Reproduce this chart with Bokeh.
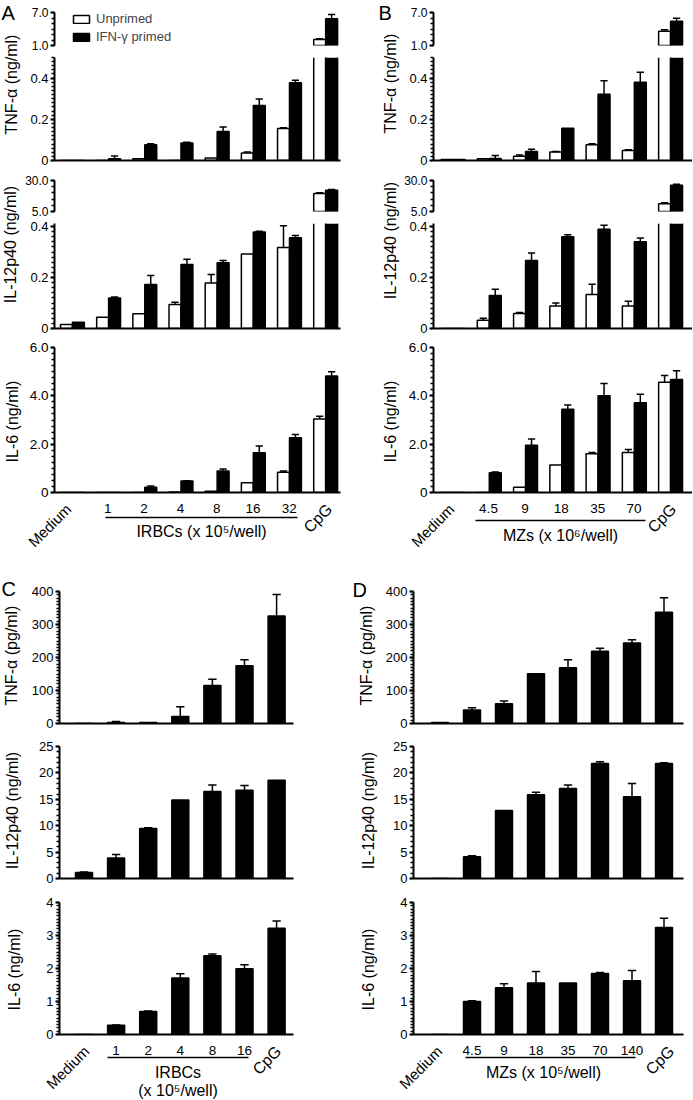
import numpy as np
from bokeh.plotting import figure
from bokeh.layouts import column, row
from bokeh.models import Range1d, FixedTicker, PrintfTickFormatter, Legend, LegendItem
from bokeh.core.properties import value
from bokeh.embed import file_html
from bokeh.resources import INLINE

FONT = "Liberation Sans"

# ---------------- data ----------------
a_groups = ["Medium", "1", "2", "4", "8", "16", "32", "CpG"]
a_tnf_unprimed = [0, 0, 0.008, 0, 0.012, 0.037, 0.155, 2.08]
a_tnf_unprimed_sd = [0, 0, 0, 0, 0, 0.004, 0.004, 0.15]
a_tnf_primed = [0, 0.008, 0.076, 0.085, 0.141, 0.267, 0.377, 5.86]
a_tnf_primed_sd = [0, 0.014, 0.005, 0.003, 0.022, 0.031, 0.013, 0.78]
a_il12_unprimed = [0.016, 0.044, 0.058, 0.094, 0.179, 0.292, 0.318, 19.5]
a_il12_unprimed_sd = [0, 0, 0, 0.009, 0.033, 0, 0.085, 0.6]
a_il12_primed = [0.025, 0.12, 0.173, 0.251, 0.258, 0.379, 0.356, 22.2]
a_il12_primed_sd = [0, 0.004, 0.035, 0.021, 0.009, 0.003, 0.009, 0.5]
a_il6_unprimed = [0, 0, 0, 0.02, 0.05, 0.40, 0.84, 3.04]
a_il6_unprimed_sd = [0, 0, 0, 0, 0, 0, 0.05, 0.12]
a_il6_primed = [0, 0, 0.22, 0.48, 0.89, 1.64, 2.27, 4.82]
a_il6_primed_sd = [0, 0, 0.05, 0.01, 0.08, 0.28, 0.13, 0.18]

b_groups = ["Medium", "4.5", "9", "18", "35", "70", "CpG"]
b_tnf_unprimed = [0.005, 0.008, 0.021, 0.041, 0.076, 0.049, 3.6]
b_tnf_unprimed_sd = [0, 0, 0.006, 0.003, 0.005, 0.003, 0.25]
b_tnf_primed = [0.005, 0.01, 0.044, 0.156, 0.322, 0.38, 5.42]
b_tnf_primed_sd = [0, 0.014, 0.011, 0, 0.065, 0.048, 0.54]
b_il12_unprimed = [0, 0.032, 0.059, 0.088, 0.133, 0.088, 11.2]
b_il12_unprimed_sd = [0, 0.008, 0.004, 0.012, 0.041, 0.019, 0.8]
b_il12_primed = [0, 0.129, 0.267, 0.36, 0.389, 0.34, 26.2]
b_il12_primed_sd = [0, 0.025, 0.029, 0.008, 0.016, 0.015, 0.8]
b_il6_unprimed = [0, 0, 0.22, 1.14, 1.60, 1.66, 4.56]
b_il6_unprimed_sd = [0, 0, 0, 0, 0.06, 0.12, 0.28]
b_il6_primed = [0, 0.82, 1.96, 3.44, 4.0, 3.71, 4.68]
b_il6_primed_sd = [0, 0.03, 0.25, 0.18, 0.51, 0.36, 0.36]

c_groups = ["Medium", "1", "2", "4", "8", "16", "CpG"]
c_tnf = [0, 3, 3, 21, 115, 175, 326]
c_tnf_sd = [0, 3, 0, 30, 19, 18, 65]
c_il12 = [1.14, 3.86, 9.49, 14.87, 16.46, 16.7, 18.6]
c_il12_sd = [0.1, 0.7, 0.1, 0, 1.24, 0.9, 0]
c_il6 = [0, 0.28, 0.70, 1.71, 2.39, 1.99, 3.22]
c_il6_sd = [0, 0.01, 0.01, 0.13, 0.05, 0.12, 0.22]

d_groups = ["Medium", "4.5", "9", "18", "35", "70", "140", "CpG"]
d_tnf = [3, 41, 60, 151, 169, 219, 244, 337]
d_tnf_sd = [0, 7, 8, 0, 24, 9, 10, 44]
d_il12 = [0, 4.1, 12.9, 15.85, 17.05, 21.8, 15.5, 21.8]
d_il12_sd = [0, 0.2, 0, 0.5, 0.65, 0.3, 2.5, 0.1]
d_il6 = [0, 1.0, 1.42, 1.56, 1.56, 1.85, 1.63, 3.24]
d_il6_sd = [0, 0.02, 0.12, 0.35, 0, 0.03, 0.31, 0.28]

# ---------------- geometry (page px) ----------------
# c0: centre of first group, sp: px per group, cl: canvas left, W: canvas width
PANEL = {
    "A": dict(c0=71.0, sp=36.3, cl=22.0, W=354, bl=31, br=36),
    "B": dict(c0=451.6, sp=36.4, cl=401.0, W=291, bl=31, br=0),
    "C": dict(c0=83.5, sp=32.1, cl=24.0, W=326, bl=35, br=57),
    "D": dict(c0=439.5, sp=32.0, cl=378.0, W=314, bl=35, br=9),
}


def conv(P, rx):
    return (rx - P["c0"]) / P["sp"]


def frame_range(P):
    f0 = P["cl"] + P["bl"]
    f1 = P["cl"] + P["W"] - P["br"]
    return Range1d(conv(P, f0), conv(P, f1))


def canvas_range(P):
    return Range1d(conv(P, P["cl"]), conv(P, P["cl"] + P["W"]))


def steps(a, b, s):
    return [round(a + i * s, 6) for i in range(int(round((b - a) / s)) + 1)]


def base_fig(w, h, xr, yr, bl, br, bt, bb, xaxis=False, yaxis=False, free=False):
    p = figure(width=w, height=h, x_range=xr, y_range=yr,
               x_axis_location="below" if xaxis else None,
               y_axis_location="left" if yaxis else None,
               output_backend="svg", toolbar_location=None, title=None,
               min_border_left=bl, min_border_right=br,
               min_border_top=bt, min_border_bottom=bb)
    p.grid.visible = False
    p.outline_line_color = None
    p.background_fill_color = "white"
    p.border_fill_color = "white"
    if free:
        try:
            p.frame_align = False
        except Exception:
            pass
    return p


def style_y(p, ticks, minor, fmt=None, size="13px"):
    ax = p.yaxis[0]
    ax.ticker = FixedTicker(ticks=ticks, minor_ticks=minor)
    if fmt:
        ax.formatter = PrintfTickFormatter(format=fmt)
        if 0 in ticks:
            ax.major_label_overrides = {0: "0"}
    ax.axis_line_width = 2
    ax.axis_line_color = "black"
    ax.major_tick_line_width = 2
    ax.minor_tick_line_width = 1.5
    ax.major_tick_out = 4
    ax.major_tick_in = 0
    ax.minor_tick_out = 3
    ax.minor_tick_in = 0
    ax.major_label_standoff = 2
    ax.major_label_text_font = FONT
    ax.major_label_text_font_size = size
    ax.major_label_text_color = "black"


def style_x_line(p):
    ax = p.xaxis[0]
    ax.ticker = FixedTicker(ticks=[])
    ax.major_tick_out = 0
    ax.major_tick_in = 0
    ax.minor_tick_out = 0
    ax.minor_tick_in = 0
    ax.major_label_text_font_size = "0px"
    ax.major_label_standoff = 0
    ax.axis_line_width = 2
    ax.axis_line_color = "black"


def draw_err(p, xs, tops, sds, cap):
    xs = np.asarray(xs, float)
    t = np.asarray(tops, float)
    e = np.asarray(sds, float)
    m = e > 0
    if not m.any():
        return
    p.segment(x0=xs[m], y0=t[m], x1=xs[m], y1=t[m] + e[m], line_color="black", line_width=1.5)
    p.segment(x0=xs[m] - cap, y0=t[m] + e[m], x1=xs[m] + cap, y1=t[m] + e[m],
              line_color="black", line_width=1.5)


def bars(p, xs, vals, sds, bw, fill, ylo, yhi, cap, upper):
    """Bars of one series inside one section of a (possibly broken) y axis."""
    xs = np.asarray(xs, float)
    v = np.asarray(vals, float)
    e = np.asarray(sds, float)
    if upper:
        m = v > ylo
        r = p.vbar(x=xs[m], top=v[m], bottom=ylo, width=bw, fill_color=fill,
                   line_color="black", line_width=1.5)
        ok = m & (v + e <= yhi)
        draw_err(p, xs[ok], v[ok], e[ok], cap)
        return r
    inside = v <= yhi
    r = p.vbar(x=xs[inside], top=v[inside], bottom=ylo, width=bw, fill_color=fill,
               line_color="black", line_width=1.5)
    ok = inside & (v + e <= yhi)
    draw_err(p, xs[ok], v[ok], e[ok], cap)
    over = ~inside
    if over.any():
        p.vbar(x=xs[over], top=yhi, bottom=ylo, width=bw, fill_color=fill, line_color=None)
        edges = np.r_[xs[over] - bw / 2, xs[over] + bw / 2]
        p.segment(x0=edges, y0=ylo, x1=edges, y1=yhi, line_color="black", line_width=1.5)
    return r


def draw_pair(p, data, ylo, yhi, upper, bw=0.33, cap=0.1):
    unp, unp_sd, pri, pri_sd = data
    x = np.arange(len(unp))
    ru = bars(p, x - bw / 2, unp, unp_sd, bw, "white", ylo, yhi, cap, upper)
    rp = bars(p, x + bw / 2, pri, pri_sd, bw, "black", ylo, yhi, cap, upper)
    return ru, rp


def draw_single(p, data, ylo, yhi, bw=0.53, cap=0.13):
    vals, sds = data
    x = np.arange(len(vals))
    bars(p, x, vals, sds, bw, "black", ylo, yhi, cap, False)


def txt(p, xs, ys, texts, size, angle=0.0, align="center", baseline="middle"):
    p.text(x=xs, y=ys, text=texts, angle=angle, text_align=align, text_baseline=baseline,
           text_font=value(FONT), text_font_size=value(size), text_color="black")


def strip_fig(W, H, items):
    p = base_fig(W, H, Range1d(0, W), Range1d(0, H), 0, 0, 0, 0, free=True)
    for (t, x, top, ang, size, align) in items:
        txt(p, [x], [H - top], [t], size, angle=ang, align=align)
    return p


def xlabel_fig(P, H, groups, num_top, line_x, line_top, titles, med, cpg):
    """Category labels under the lowest chart of a panel (same x scale)."""
    p = base_fig(P["W"], H, canvas_range(P), Range1d(0, H), 0, 0, 0, 0, free=True)
    n = len(groups)
    idx = list(range(1, n - 1))
    txt(p, idx, [H - num_top] * len(idx), groups[1:-1], "13.5px")
    p.segment(x0=[conv(P, line_x[0])], y0=[H - line_top], x1=[conv(P, line_x[1])],
              y1=[H - line_top], line_color="black", line_width=1.5)
    for (t, rx, top) in titles:
        txt(p, [conv(P, rx)], [H - top], [t], "16px")
    txt(p, [conv(P, med[0])], [H - med[1]], [groups[0]], "15px", angle=np.pi / 4, align="right")
    txt(p, [conv(P, cpg[0])], [H - cpg[1]], [groups[-1]], "16px", angle=np.pi / 4, align="right")
    return p


def pair_column(P, tnf, il12, il6, xl, legend=False):
    xr = frame_range(P)
    W, bl, br = P["W"], P["bl"], P["br"]
    figs = []
    # TNF upper section (1 - 7)
    p = base_fig(W, 53, xr, Range1d(1, 7), bl, br, 12, 8, yaxis=True)
    ru, rp = draw_pair(p, tnf, 1, 7, True)
    style_y(p, [1, 7], steps(1, 7, 1), "%.1f", "12px")
    if legend:
        lg = Legend(items=[LegendItem(label="Unprimed", renderers=[ru]),
                           LegendItem(label="IFN-\u03b3 primed", renderers=[rp])],
                    location=(17, 1), glyph_width=20, glyph_height=10, label_height=14,
                    label_standoff=5, spacing=3, padding=0, margin=0,
                    border_line_color=None, background_fill_alpha=0,
                    label_text_font=FONT, label_text_font_size="13px")
        p.add_layout(lg)
    figs.append(p)
    # TNF lower section (0 - 0.5)
    p = base_fig(W, 116, xr, Range1d(0, 0.5), bl, br, 4, 9, xaxis=True, yaxis=True)
    draw_pair(p, tnf, 0, 0.5, False)
    style_y(p, [0, 0.2, 0.4], steps(0, 0.5, 0.02), "%.1f", "13px")
    style_x_line(p)
    figs.append(p)
    # IL-12 upper section (5 - 30)
    p = base_fig(W, 49, xr, Range1d(5, 30), bl, br, 11, 7, yaxis=True)
    draw_pair(p, il12, 5, 30, True)
    style_y(p, [5, 30], steps(5, 30, 5), "%.1f", "12px")
    figs.append(p)
    # IL-12 lower section
    p = base_fig(W, 119, xr, Range1d(0, 0.412), bl, br, 5, 9, xaxis=True, yaxis=True)
    draw_pair(p, il12, 0, 0.412, False)
    style_y(p, [0, 0.2, 0.4], steps(0, 0.4, 0.02), "%.1f", "13px")
    style_x_line(p)
    figs.append(p)
    # IL-6
    p = base_fig(W, 163, xr, Range1d(0, 6), bl, br, 10, 8, xaxis=True, yaxis=True)
    draw_pair(p, il6, 0, 6, False)
    style_y(p, [0, 2, 4, 6], steps(0, 6, 0.25), "%.1f", "13.5px")
    style_x_line(p)
    figs.append(p)
    figs.append(xl)
    return column(*figs, spacing=0)


def single_column(P, tnf, il12, il6, xl):
    xr = frame_range(P)
    W, bl, br = P["W"], P["bl"], P["br"]
    figs = []
    p = base_fig(W, 183, xr, Range1d(0, 400), bl, br, 42, 9, xaxis=True, yaxis=True)
    draw_single(p, tnf, 0, 400)
    style_y(p, steps(0, 400, 100), steps(0, 400, 10), None, "13px")
    style_x_line(p)
    figs.append(p)
    p = base_fig(W, 155, xr, Range1d(0, 25), bl, br, 14, 9, xaxis=True, yaxis=True)
    draw_single(p, il12, 0, 25)
    style_y(p, steps(0, 25, 5), steps(0, 25, 1), None, "13px")
    style_x_line(p)
    figs.append(p)
    p = base_fig(W, 155, xr, Range1d(0, 4), bl, br, 15, 8, xaxis=True, yaxis=True)
    draw_single(p, il6, 0, 4)
    style_y(p, steps(0, 4, 1), steps(0, 4, 0.1), None, "13px")
    style_x_line(p)
    figs.append(p)
    figs.append(xl)
    return column(*figs, spacing=0)


PA, PB, PC, PD = PANEL["A"], PANEL["B"], PANEL["C"], PANEL["D"]
HALF = np.pi / 2

# ---- top row ----
xlA = xlabel_fig(PA, 49, a_groups, 7.5, (105, 297), 17,
                 [("IRBCs (x 10\u2075/well)", 201, 31)], (68, 6), (329, 6))
colA = pair_column(PA,
                   (a_tnf_unprimed, a_tnf_unprimed_sd, a_tnf_primed, a_tnf_primed_sd),
                   (a_il12_unprimed, a_il12_unprimed_sd, a_il12_primed, a_il12_primed_sd),
                   (a_il6_unprimed, a_il6_unprimed_sd, a_il6_primed, a_il6_primed_sd),
                   xlA, legend=True)
stripA = strip_fig(22, 549, [
    ("A", 1, 12.5, 0.0, "20px", "left"),
    ("TNF-\u03b1 (ng/ml)", 11, 84, HALF, "16px", "center"),
    ("IL-12p40 (ng/ml)", 10, 244, HALF, "16px", "center"),
    ("IL-6 (ng/ml)", 12, 421, HALF, "16px", "center"),
])
xlB = xlabel_fig(PB, 49, b_groups, 7.5, (475, 645), 20,
                 [("MZs (x 10\u2076/well)", 560, 35)], (451, 6), (673, 6))
colB = pair_column(PB,
                   (b_tnf_unprimed, b_tnf_unprimed_sd, b_tnf_primed, b_tnf_primed_sd),
                   (b_il12_unprimed, b_il12_unprimed_sd, b_il12_primed, b_il12_primed_sd),
                   (b_il6_unprimed, b_il6_unprimed_sd, b_il6_primed, b_il6_primed_sd),
                   xlB)
stripB = strip_fig(25, 549, [
    ("B", 2, 12, 0.0, "20px", "left"),
    ("TNF-\u03b1 (ng/ml)", 14, 83, HALF, "16px", "center"),
    ("IL-12p40 (ng/ml)", 14, 240, HALF, "16px", "center"),
    ("IL-6 (ng/ml)", 14, 421, HALF, "16px", "center"),
])
top = row(stripA, colA, stripB, colB, spacing=0)

# ---- bottom row ----
xlC = xlabel_fig(PC, 57, c_groups, 7.5, (107, 248), 15,
                 [("IRBCs", 177.5, 30), ("(x 10\u2075/well)", 177.5, 47.5)], (86, 6), (278, 6))
colC = single_column(PC, (c_tnf, c_tnf_sd), (c_il12, c_il12_sd), (c_il6, c_il6_sd), xlC)
stripC = strip_fig(24, 550, [
    ("C", 1, 39, 0.0, "20px", "left"),
    ("TNF-\u03b1 (pg/ml)", 11, 106, HALF, "16px", "center"),
    ("IL-12p40 (ng/ml)", 12, 261, HALF, "16px", "center"),
    ("IL-6 (ng/ml)", 14, 420, HALF, "16px", "center"),
])
xlD = xlabel_fig(PD, 57, d_groups, 7.5, (465, 635), 15,
                 [("MZs (x 10\u2075/well)", 543, 30)], (439, 6), (671, 6))
colD = single_column(PD, (d_tnf, d_tnf_sd), (d_il12, d_il12_sd), (d_il6, d_il6_sd), xlD)
stripD = strip_fig(28, 550, [
    ("D", 2, 40, 0.0, "20px", "left"),
    ("TNF-\u03b1 (pg/ml)", 16, 106, HALF, "16px", "center"),
    ("IL-12p40 (ng/ml)", 18, 261, HALF, "16px", "center"),
    ("IL-6 (ng/ml)", 18, 420, HALF, "16px", "center"),
])
bottom = row(stripC, colC, stripD, colD, spacing=0)

page = column(top, bottom, spacing=0)

open("out.html", "w").write(file_html(page, INLINE))
